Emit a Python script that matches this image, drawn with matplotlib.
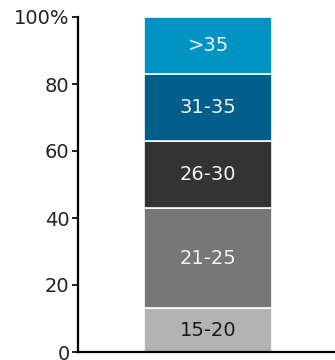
import numpy as np
import matplotlib
matplotlib.use("Agg")
import matplotlib.pyplot as plt

# age groups stacked from bottom to top, share in percent
groups = ["15-20", "21-25", "26-30", "31-35", ">35"]
shares = [13, 30, 20, 20, 17]
colors = ["#b3b3b3", "#767676", "#333333", "#005e8c", "#0094c4"]
text_colors = ["#1a1a1a", "#f2f2f2", "#f2f2f2", "#f2f2f2", "#f2f2f2"]
yticks = [0, 20, 40, 60, 80, 100]
ytick_labels = ["0", "20", "40", "60", "80", "100%"]

fig = plt.figure(figsize=(3.35, 3.6), dpi=100)
ax = fig.add_axes([78 / 335, 8 / 360, 257 / 335, 335 / 360])

bottom = 0
for g, v, c, tc in zip(groups, shares, colors, text_colors):
    ax.bar(0, v, width=0.5, bottom=bottom, color=c, edgecolor="white", linewidth=1.2)
    ax.text(0, bottom + v / 2, g, ha="center", va="center", color=tc, fontsize=14)
    bottom += v

ax.set_xlim(-0.508, 0.496)
ax.set_ylim(0, 100)
ax.set_yticks(yticks)
ax.set_yticklabels(ytick_labels, fontsize=14, color="#222222")
ax.set_xticks([])
ax.spines["top"].set_visible(False)
ax.spines["right"].set_visible(False)
ax.spines["left"].set_linewidth(1.6)
ax.spines["bottom"].set_linewidth(1.6)
ax.tick_params(axis="y", length=4, width=1.2, pad=2)

fig.savefig("out.png", dpi=100)
